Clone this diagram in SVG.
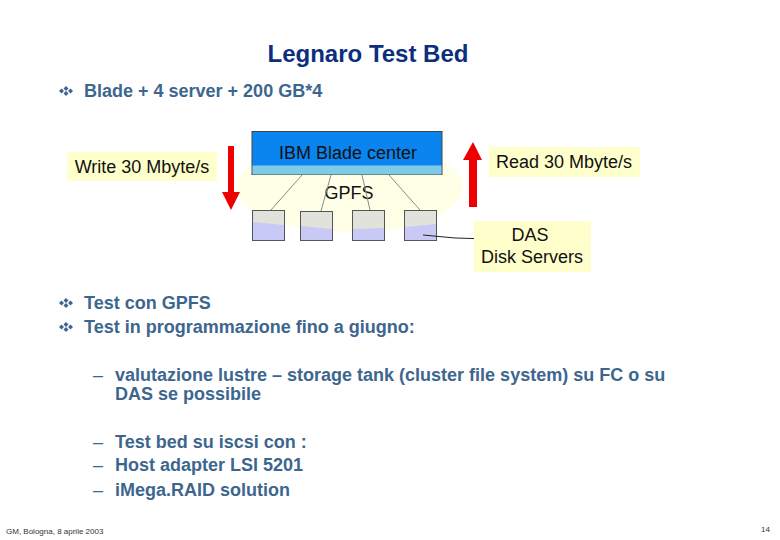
<svg xmlns="http://www.w3.org/2000/svg" width="780" height="540" viewBox="0 0 780 540">
<style>
text{font-family:"Liberation Sans",Arial,sans-serif}
.title{font-size:24px;font-weight:bold;fill:#0b2f7e}
.b{font-size:18px;font-weight:bold;fill:#3d668f}
.s{font-size:18px;font-weight:bold;fill:#3d668f}
.dash{font-size:18px;fill:#3d668f}
.lab{font-size:18px;fill:#111}
.note{fill:#ffffcc}
.lnk{fill:none;stroke:#8a8a80;stroke-width:1}
.srv{stroke:#555;stroke-width:1}
.top{fill:#e2e2dc}
.bot{fill:#c9c9f5}
.red{fill:#ee0000}
.foot{font-size:8px;fill:#333}
</style>
<defs>
<g id="bul" fill="#3d668f"><path d="M0-5 2.500-2.500 0 0-2.500-2.500Z"/><path d="M0 0 2.500 2.500 0 5-2.500 2.500Z"/><path d="M-4.500-2.500-2 0-4.500 2.500-7 0Z"/><path d="M4.500-2.500 7 0 4.500 2.500 2 0Z"/></g>
</defs>
<rect width="780" height="540" fill="#fff"/>
<text class="title" x="368" y="62" text-anchor="middle">Legnaro Test Bed</text>
<use href="#bul" x="66" y="91"/>
<text class="b" x="84" y="97">Blade + 4 server + 200 GB*4</text>
<g id="halo"><ellipse cx="350" cy="187" rx="113" ry="46" fill="#ffffe8"/></g>
<g id="blade">
<rect x="252" y="131.500" width="190" height="43" fill="#0a84ef" stroke="#444"/>
<rect x="252.500" y="165.500" width="189" height="9" fill="#7fcbe6"/>
<text class="lab" x="348" y="159" text-anchor="middle" fill="#10305e">IBM Blade center</text>
</g>
<g id="gpfs"><text class="lab" x="349" y="199" text-anchor="middle">GPFS</text></g>
<g id="server1"><rect class="srv bot" x="252.500" y="210.500" width="32" height="30"/><path class="top" d="M253 211H284V225L253 222Z"/></g>
<g id="server2"><rect class="srv bot" x="300.500" y="211.500" width="32" height="29"/><path class="top" d="M301 212H332V229L301 226Z"/></g>
<g id="server3"><rect class="srv bot" x="352.500" y="210.500" width="32" height="30"/><path class="top" d="M353 211H384V228L353 229Z"/></g>
<g id="server4"><rect class="srv bot" x="404.500" y="210.500" width="32" height="30"/><path class="top" d="M405 211H436V224L405 227Z"/></g>
<g id="connectors">
<path class="lnk" d="M302 175 271 210M331 175 321 211M362 175 370 210M389 175 420 210"/>
<path d="M423 235 455 238 490 239" fill="none" stroke="#222" stroke-width="1"/>
</g>
<g id="write">
<rect class="note" x="67" y="152" width="150" height="29"/>
<text class="lab" x="142" y="173" text-anchor="middle">Write 30 Mbyte/s</text>
<path class="red" d="M228 146H234V192H240L231 210 222 192H228Z"/>
</g>
<g id="read">
<rect class="note" x="489" y="147" width="151" height="30"/>
<text class="lab" x="564" y="168" text-anchor="middle">Read 30 Mbyte/s</text>
<path class="red" d="M469 207H477V160H482L473 142 463 160H469Z"/>
</g>
<g id="das">
<rect class="note" x="474" y="221" width="117" height="51"/>
<text class="lab" x="530" y="241" text-anchor="middle">DAS</text>
<text class="lab" x="532" y="263" text-anchor="middle">Disk Servers</text>
</g>
<use href="#bul" x="66" y="303"/>
<text class="b" x="84" y="309">Test con GPFS</text>
<use href="#bul" x="66" y="327"/>
<text class="b" x="84" y="333">Test in programmazione fino a giugno:</text>
<text class="dash" x="93" y="381">–</text>
<text class="s" x="115" y="381">valutazione lustre – storage tank (cluster file system) su FC o su</text>
<text class="s" x="115" y="400">DAS se possibile</text>
<text class="dash" x="93" y="448">–</text>
<text class="s" x="115" y="448">Test bed su iscsi con :</text>
<text class="dash" x="93" y="471">–</text>
<text class="s" x="115" y="471">Host adapter LSI 5201</text>
<text class="dash" x="93" y="496">–</text>
<text class="s" x="115" y="496">iMega.RAID solution</text>
<text class="foot" x="6" y="534">GM, Bologna, 8 aprile 2003</text>
<text class="foot" x="761" y="532">14</text>
</svg>
